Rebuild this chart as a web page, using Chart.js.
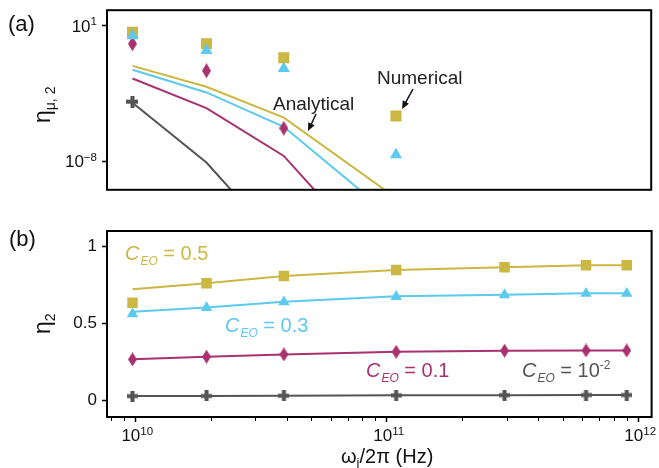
<!DOCTYPE html>
<html>
<head>
<meta charset="utf-8">
<script src="https://cdn.jsdelivr.net/npm/chart.js@4.4.1/dist/chart.umd.min.js"></script>
<style>
  html, body { margin: 0; padding: 0; background: #fff; }
  #wrap { position: relative; width: 659px; height: 468px; }
  canvas { position: absolute; left: 0; }
</style>
</head>
<body>
<div id="wrap">
  <canvas id="panelA" width="659" height="200" style="top:0"></canvas>
  <canvas id="panelB" width="659" height="268" style="top:200px"></canvas>
</div>
<script>
// idler frequencies (Hz), shared by both panels
const freqs = [9.75e9, 1.92e10, 3.9e10, 1.09e11, 2.94e11, 6.2e11, 9.0e11]

// panel (a): eta_mu,2 (log), numerical markers
const numA05 = [3.7, 0.65, 0.076, 1.05e-5]
const numA03 = [2.24, 0.23, 0.0148, 2.8e-8]
const numA01 = [0.65, 0.0105, 1.6e-6]
const numA001 = [9.3e-5]
// panel (a): analytical curves
const anaA05 = [0.022, 9.1e-4, 8.1e-6, 3.8e-11]
const anaA03 = [0.0123, 3.8e-4, 2.0e-6, 1.3e-12]
const anaA01 = [3.2e-3, 3.5e-5, 2.3e-8, 1.3e-16]
const anaA001 = [7.9e-5, 8.5e-9, 1.6e-14]

// panel (b): eta_2, numerical markers
const numB05 = [0.635, 0.762, 0.809, 0.848, 0.866, 0.879, 0.879]
const numB03 = [0.563, 0.603, 0.640, 0.675, 0.686, 0.695, 0.695]
const numB01 = [0.267, 0.284, 0.299, 0.316, 0.323, 0.325, 0.325]
const numB001 = [0.028, 0.029, 0.030, 0.033, 0.034, 0.035, 0.035]
// panel (b): analytical curves
const anaB05 = [0.723, 0.762, 0.809, 0.848, 0.866, 0.879, 0.879]
const anaB03 = [0.577, 0.605, 0.642, 0.677, 0.688, 0.697, 0.697]
const anaB01 = [0.267, 0.284, 0.299, 0.316, 0.323, 0.325, 0.325]
const anaB001 = [0.028, 0.029, 0.030, 0.033, 0.034, 0.035, 0.035]

const yTicksA = [10, 1e-8]
const yTicksB = [0, 0.5, 1]
const xTicksB = [1e10, 1e11, 1e12]

const GOLD = '#CBB742'
const BLUE = '#5CC9EE'
const MAGENTA = '#A7326F'
const GRAY = '#545454'
const FAMILY = "'Liberation Sans', Arial, Helvetica, sans-serif"

function font(size, style) {
  return (style ? style + ' ' : '') + size + 'px ' + FAMILY
}

function pts(values) {
  return values.map((v, i) => ({ x: freqs[i], y: v }))
}

function markerCanvas(w, h, draw) {
  let c = document.createElement('canvas')
  c.width = w
  c.height = h
  draw(c.getContext('2d'), w, h)
  return c
}

function diamond(w, h) {
  return markerCanvas(w, h, (g) => {
    g.fillStyle = MAGENTA
    g.beginPath()
    g.moveTo(w / 2, 0)
    g.lineTo(w, h / 2)
    g.lineTo(w / 2, h)
    g.lineTo(0, h / 2)
    g.closePath()
    g.fill()
  })
}

function plus(s, t) {
  return markerCanvas(s, s, (g) => {
    g.fillStyle = GRAY
    g.fillRect(0, (s - t) / 2, s, t)
    g.fillRect((s - t) / 2, 0, t, s)
  })
}

function markers(values, color, style, radius) {
  return {
    data: pts(values), showLine: false,
    pointStyle: style, pointRadius: radius,
    pointBackgroundColor: color, pointBorderWidth: 0, borderColor: color
  }
}

function curve(values, color) {
  return { data: pts(values), showLine: true, borderColor: color, borderWidth: 2, pointRadius: 0 }
}

// text helpers
function drawParts(ctx, parts, x, y) {
  let cx = x
  for (let p of parts) {
    ctx.font = font(p.size, p.style)
    ctx.fillStyle = p.color
    ctx.fillText(p.text, cx, y + (p.dy || 0))
    cx += ctx.measureText(p.text).width + (p.gap || 0)
  }
}

function drawRotated(ctx, parts, x, y) {
  ctx.save()
  ctx.translate(x, y)
  ctx.rotate(-Math.PI / 2)
  drawParts(ctx, parts, 0, 0)
  ctx.restore()
}

function drawPow(ctx, exp, x, y, align, size) {
  ctx.font = font(size)
  let wb = ctx.measureText('10').width
  ctx.font = font(size * 0.68)
  let we = ctx.measureText(exp).width
  let x0 = align === 'right' ? x - wb - we : x - (wb + we) / 2
  ctx.fillStyle = '#111'
  ctx.font = font(size)
  ctx.fillText('10', x0, y)
  ctx.font = font(size * 0.68)
  ctx.fillText(exp, x0 + wb, y - size * 0.38)
}

function arrow(ctx, x1, y1, x2, y2) {
  let a = Math.atan2(y2 - y1, x2 - x1)
  ctx.strokeStyle = '#111'
  ctx.fillStyle = '#111'
  ctx.lineWidth = 1.5
  ctx.beginPath()
  ctx.moveTo(x1, y1)
  ctx.lineTo(x2 - 5 * Math.cos(a), y2 - 5 * Math.sin(a))
  ctx.stroke()
  ctx.beginPath()
  ctx.moveTo(x2, y2)
  ctx.lineTo(x2 - 8 * Math.cos(a) + 3.5 * Math.sin(a), y2 - 8 * Math.sin(a) - 3.5 * Math.cos(a))
  ctx.lineTo(x2 - 8 * Math.cos(a) - 3.5 * Math.sin(a), y2 - 8 * Math.sin(a) + 3.5 * Math.cos(a))
  ctx.closePath()
  ctx.fill()
}

function frame(chart) {
  let { ctx, chartArea: a } = chart
  ctx.save()
  ctx.strokeStyle = '#000'
  ctx.lineWidth = 2
  ctx.strokeRect(a.left, a.top, a.right - a.left, a.bottom - a.top)
  ctx.restore()
}

const decorA = {
  id: 'decorA',
  afterDraw(chart) {
    let ctx = chart.ctx
    frame(chart)
    ctx.save()
    ctx.textBaseline = 'alphabetic'
    ctx.textAlign = 'left'
    let y = chart.scales.y
    for (let v of yTicksA) {
      let e = Math.round(Math.log10(v))
      drawPow(ctx, e < 0 ? '\u2212' + (-e) : String(e), 97, y.getPixelForValue(v) + 6, 'right', 17)
    }
    drawParts(ctx, [{ text: '(a)', size: 22, color: '#111' }], 8, 31)
    drawRotated(ctx, [
      { text: '\u03b7', size: 23, color: '#111' },
      { text: '\u03bc, 2', size: 14, color: '#111', dy: 5 }
    ], 50, 123)
    drawParts(ctx, [{ text: 'Analytical', size: 19, color: '#222' }], 273, 110)
    arrow(ctx, 316, 114, 308, 131)
    drawParts(ctx, [{ text: 'Numerical', size: 19, color: '#222' }], 377, 84)
    arrow(ctx, 413, 89, 402, 109)
    ctx.restore()
  }
}

const decorB = {
  id: 'decorB',
  afterDraw(chart) {
    let ctx = chart.ctx
    let x = chart.scales.x
    let a = chart.chartArea
    frame(chart)
    ctx.save()
    // minor ticks on the log axis
    ctx.strokeStyle = '#000'
    ctx.lineWidth = 1
    for (let k = 9; k <= 11; k++) {
      for (let d = 2; d <= 9; d++) {
        let v = d * Math.pow(10, k)
        if (v < x.min || v > x.max) continue
        let px = Math.round(x.getPixelForValue(v)) + 0.5
        ctx.beginPath()
        ctx.moveTo(px, a.bottom + 1)
        ctx.lineTo(px, a.bottom + 4)
        ctx.stroke()
      }
    }
    ctx.textBaseline = 'alphabetic'
    ctx.textAlign = 'left'
    for (let v of xTicksB) {
      drawPow(ctx, String(Math.round(Math.log10(v))), x.getPixelForValue(v) + 2, 241, 'center', 17)
    }
    drawParts(ctx, [
      { text: '\u03c9', size: 20, color: '#111' },
      { text: 'j', size: 13, color: '#111', dy: 4 },
      { text: '/2\u03c0 (Hz)', size: 20, color: '#111' }
    ], 341, 263)
    drawParts(ctx, [{ text: '(b)', size: 22, color: '#111' }], 9, 46)
    drawRotated(ctx, [
      { text: '\u03b7', size: 23, color: '#111' },
      { text: '2', size: 14, color: '#111', dy: 5 }
    ], 50, 134)
    let label = (color, value, lx, ly, power) => {
      let parts = [
        { text: 'C', size: 20, style: 'italic', color: color, gap: 1 },
        { text: 'EO', size: 12, style: 'italic', color: color, dy: 5 },
        { text: ' = ' + value, size: 20, color: color }
      ]
      drawParts(ctx, parts, lx, ly)
      if (power) {
        let w = 0
        for (let p of parts) { ctx.font = font(p.size, p.style); w += ctx.measureText(p.text).width + (p.gap || 0) }
        drawParts(ctx, [{ text: power, size: 12, color: color }], lx + w, ly - 8)
      }
    }
    label(GOLD, '0.5', 125, 60)
    label(BLUE, '0.3', 225, 132)
    label(MAGENTA, '0.1', 366, 177)
    label(GRAY, '10', 522, 177, '-2')
    ctx.restore()
  }
}

const axisGrid = { drawOnChartArea: false, tickLength: 5, tickColor: '#000', tickWidth: 1.5 }
const common = {
  responsive: false,
  animation: false,
  plugins: { legend: { display: false }, tooltip: { enabled: false } }
}

// first dataset is drawn on top: triangles over squares, markers over curves
new Chart(document.getElementById('panelA'), {
  type: 'scatter',
  data: {
    datasets: [
      markers(numA03, BLUE, 'triangle', 7),
      markers(numA05, GOLD, 'rect', 7.8),
      markers(numA01, MAGENTA, diamond(9, 15), 7),
      markers(numA001, GRAY, plus(12, 4), 6),
      curve(anaA05, GOLD),
      curve(anaA03, BLUE),
      curve(anaA01, MAGENTA),
      curve(anaA001, GRAY)
    ]
  },
  options: Object.assign({}, common, {
    layout: { padding: { left: 0, right: 4, top: 9, bottom: 7 } },
    scales: {
      x: { type: 'logarithmic', min: 7.72e9, max: 1.13e12, display: false },
      y: {
        type: 'logarithmic', min: 1.3e-10, max: 110,
        afterBuildTicks: (s) => { s.ticks = yTicksA.map((v) => ({ value: v })) },
        afterFit: (s) => { s.width = 107 },
        ticks: { callback: () => '' },
        grid: axisGrid,
        border: { display: false }
      }
    }
  }),
  plugins: [decorA]
})

new Chart(document.getElementById('panelB'), {
  type: 'scatter',
  data: {
    datasets: [
      markers(numB03, BLUE, 'triangle', 6.6),
      markers(numB05, GOLD, 'rect', 7.4),
      markers(numB01, MAGENTA, diamond(9, 14), 7),
      markers(numB001, GRAY, plus(11, 4), 6),
      curve(anaB05, GOLD),
      curve(anaB03, BLUE),
      curve(anaB01, MAGENTA),
      curve(anaB001, GRAY)
    ]
  },
  options: Object.assign({}, common, {
    layout: { padding: { left: 0, right: 4, top: 31, bottom: 0 } },
    scales: {
      x: {
        type: 'logarithmic', min: 7.72e9, max: 1.13e12,
        afterBuildTicks: (s) => { s.ticks = xTicksB.map((v) => ({ value: v })) },
        afterFit: (s) => { s.height = 51 },
        ticks: { callback: () => '', autoSkip: false, maxRotation: 0 },
        grid: axisGrid,
        border: { display: false }
      },
      y: {
        min: -0.108, max: 1.102,
        afterBuildTicks: (s) => { s.ticks = yTicksB.map((v) => ({ value: v })) },
        afterFit: (s) => { s.width = 107 },
        ticks: { callback: (v) => String(v), color: '#111', padding: 5, font: { size: 17, family: FAMILY } },
        grid: axisGrid,
        border: { display: false }
      }
    }
  }),
  plugins: [decorB]
})
</script>
</body>
</html>
